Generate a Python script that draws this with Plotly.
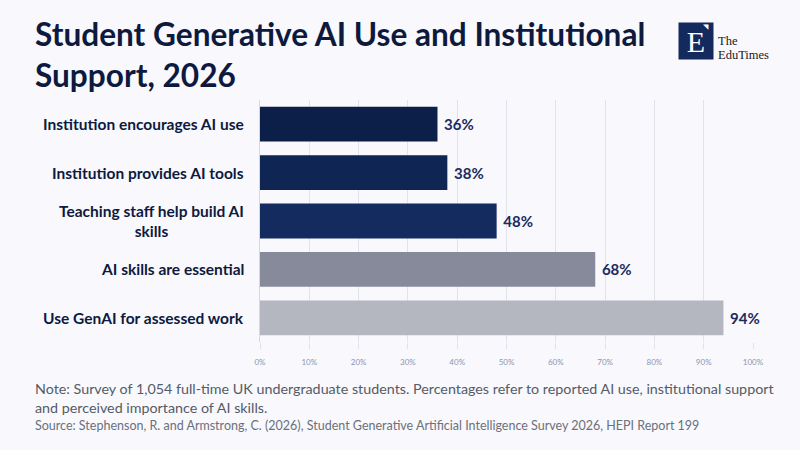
import plotly.graph_objects as go

categories = [
    "Institution encourages AI use",
    "Institution provides AI tools",
    "Teaching staff help build AI<br>skills",
    "AI skills are essential",
    "Use GenAI for assessed work",
]
values = [36, 38, 48, 68, 94]
bar_colors = ["#0C1F49", "#0F2553", "#132B5F", "#878A9B", "#B4B6C0"]
tick_vals = list(range(0, 101, 10))
tick_text = [f"{v}%" for v in tick_vals]

bg = "#F8F8FD"
navy = "#0E1A3D"

# plot area in pixels
L, R, T, B = 260, 753, 100, 342


def px(x):
    return (x - L) / (R - L)


def py(y):
    return (B - y) / (B - T)


fig = go.Figure(go.Bar(
    x=values,
    y=categories,
    orientation="h",
    marker=dict(color=bar_colors, line=dict(width=0)),
    width=0.72,
    text=[f" {v}%" for v in values],
    textposition="outside",
    textfont=dict(family="Lato", size=15, color="#1B2B5C", weight="bold"),
    cliponaxis=False,
    hoverinfo="skip",
))

fig.update_layout(
    width=800, height=450,
    paper_bgcolor=bg, plot_bgcolor=bg,
    margin=dict(l=L, r=800 - R, t=T, b=450 - B),
    showlegend=False,
    font=dict(family="Lato"),
)

fig.update_xaxes(
    range=[0, 100], tickvals=tick_vals, ticktext=tick_text,
    showgrid=True, gridcolor="#E1E3EA", gridwidth=1,
    ticks="outside", ticklen=6, tickcolor="#E1E3EA",
    tickfont=dict(size=8, color="#8C95B0"), ticklabelstandoff=6,
    zeroline=False, showline=False,
)
fig.update_yaxes(
    autorange="reversed", showticklabels=False,
    showline=True, linecolor="#D5D8E0", linewidth=1,
    showgrid=False, zeroline=False,
)

# category labels, centred like the original
for c in categories:
    fig.add_annotation(
        x=0, y=c, xref="paper", yref="y", xanchor="right", xshift=-14,
        text=c, showarrow=False, align="center",
        font=dict(family="Lato", size=15.5, color=navy, weight="bold"),
    )

# title
fig.add_annotation(
    x=px(33), y=py(13), xref="paper", yref="paper", xanchor="left", yanchor="top",
    text="Student Generative AI Use and Institutional<br>Support, 2026",
    showarrow=False, align="left",
    font=dict(family="Lato", size=31.6, color=navy, weight="bold"),
)

# logo
fig.add_annotation(
    x=px(678), y=py(22), xref="paper", yref="paper", xanchor="left", yanchor="top",
    text="E", showarrow=False, width=34, height=36, borderpad=0,
    bgcolor="#14295C", valign="middle",
    font=dict(family="Liberation Serif", size=30, color="white"),
)
fig.add_annotation(
    x=px(710), y=py(22), xref="paper", yref="paper", xanchor="right", yanchor="top",
    text="◥", showarrow=False, borderpad=0,
    font=dict(family="DejaVu Sans", size=7, color="white"),
)
fig.add_annotation(
    x=px(717), y=py(33), xref="paper", yref="paper",
    xanchor="left", text="The", showarrow=False, borderpad=0,
    font=dict(family="Liberation Serif", size=12.5, color="#1A1A1A"),
)
fig.add_annotation(
    x=px(717), y=py(47), xref="paper", yref="paper",
    xanchor="left", text="EduTimes", showarrow=False, borderpad=0,
    font=dict(family="Liberation Serif", size=12.5, color="#1A1A1A"),
)

# notes
fig.add_annotation(
    x=px(33), y=py(378), xref="paper", yref="paper", xanchor="left", yanchor="top",
    text="Note: Survey of 1,054 full-time UK undergraduate students. Percentages refer to reported AI use, institutional support<br>and perceived importance of AI skills.",
    showarrow=False, align="left",
    font=dict(family="Lato", size=14.3, color="#555B66"),
)
fig.add_annotation(
    x=px(33), y=py(416), xref="paper", yref="paper", xanchor="left", yanchor="top",
    text="Source: Stephenson, R. and Armstrong, C. (2026), Student Generative Artificial Intelligence Survey 2026, HEPI Report 199",
    showarrow=False, align="left",
    font=dict(family="Lato", size=12.5, color="#6A707C"),
)

fig.write_html("out.html", config={"displayModeBar": False},
               post_script="document.body.style.margin='0';")
